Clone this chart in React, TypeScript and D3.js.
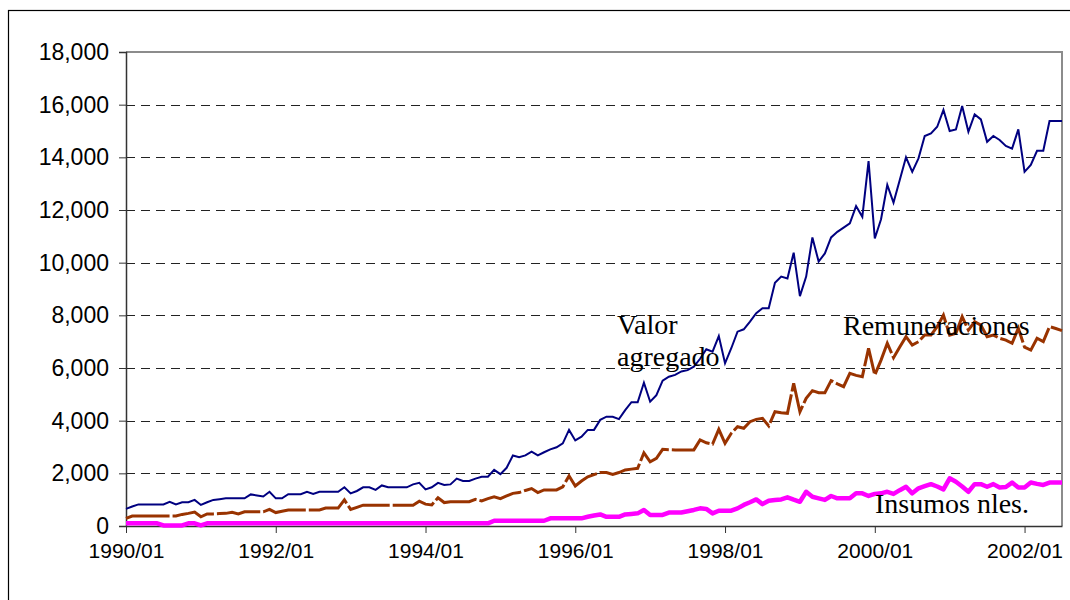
import React, { useEffect, useRef } from 'react';
import * as d3 from 'd3';

// monthly series, 1990/01 .. 2002/07
const valorAgregado = [
  650, 740, 820, 820, 820, 820, 820, 920, 820, 900,
  900, 990, 800, 900, 990, 1020, 1050, 1050, 1050, 1050,
  1200, 1160, 1120, 1300, 1050, 1050, 1210, 1210, 1210, 1300,
  1220, 1300, 1300, 1300, 1300, 1470, 1240, 1330, 1470, 1470,
  1370, 1540, 1470, 1470, 1470, 1470, 1580, 1640, 1390, 1470,
  1640, 1560, 1580, 1800, 1710, 1710, 1800, 1870, 1870, 2130,
  1970, 2210, 2680, 2610, 2680, 2820, 2680, 2800, 2910, 2990,
  3140, 3650, 3250, 3390, 3650, 3650, 4030, 4150, 4150, 4060,
  4400, 4700, 4700, 5440, 4720, 4970, 5520, 5670, 5740, 5870,
  5920, 6050, 6350, 6710, 6620, 7210, 6180, 6750, 7380, 7470,
  7760, 8080, 8270, 8270, 9240, 9470, 9400, 10380, 8730, 9470,
  10960, 10040, 10350, 10960, 11170, 11330, 11490, 12150, 11740, 13860,
  10920, 11650, 12950, 12280, 13140, 14000, 13450, 13960, 14810, 14910,
  15160, 15800, 15000, 15060, 15950, 14970, 15630, 15440, 14590, 14810,
  14660, 14430, 14330, 15060, 13450, 13710, 14250, 14250, 15380, 15380,
  15380,
];

const remuneraciones = [
  290, 380, 380, 380, 380, 380, 380, 380, 380, 440,
  480, 530, 350, 460, 460, 470, 480, 520, 460, 540,
  540, 540, 540, 630, 510, 560, 610, 610, 610, 610,
  610, 610, 680, 680, 680, 990, 630, 710, 790, 790,
  790, 790, 790, 790, 790, 790, 790, 940, 830, 800,
  1070, 890, 920, 920, 920, 920, 1010, 950, 1040, 1110,
  1040, 1140, 1240, 1270, 1350, 1420, 1270, 1370, 1370, 1370,
  1490, 1900, 1520, 1710, 1870, 1950, 2030, 2030, 1960, 2030,
  2130, 2160, 2190, 2780, 2440, 2570, 2910, 2900, 2890, 2890,
  2890, 2890, 3270, 3160, 3110, 3670, 3140, 3520, 3770, 3710,
  3960, 4050, 4090, 3800, 4340, 4300, 4280, 5420, 4340, 4850,
  5140, 5060, 5060, 5520, 5400, 5290, 5800, 5720, 5670, 6750,
  5730, 6300, 6940, 6390, 6800, 7190, 6870, 7000, 7250, 7250,
  7570, 8010, 7250, 7320, 7950, 7440, 7760, 7630, 7190, 7250,
  7130, 7060, 6940, 7510, 6790, 6680, 7130, 7000, 7570, 7500,
  7420,
];

const insumos = [
  100, 100, 100, 100, 100, 100, 20, 20, 20, 20,
  100, 100, 20, 100, 100, 100, 100, 100, 100, 100,
  100, 100, 100, 100, 100, 100, 100, 100, 100, 100,
  100, 100, 100, 100, 100, 100, 100, 100, 100, 100,
  100, 100, 100, 100, 100, 100, 100, 100, 100, 100,
  100, 100, 100, 100, 100, 100, 100, 100, 100, 200,
  200, 200, 200, 200, 200, 200, 200, 200, 290, 290,
  290, 290, 290, 290, 350, 400, 440, 350, 350, 350,
  440, 460, 480, 610, 420, 420, 420, 510, 510, 510,
  560, 610, 670, 650, 480, 580, 580, 580, 670, 800,
  900, 1010, 830, 960, 990, 1010, 1090, 1000, 920, 1300,
  1110, 1050, 990, 1140, 1050, 1050, 1050, 1240, 1240, 1140,
  1220, 1240, 1300, 1220, 1360, 1490, 1240, 1430, 1510, 1590,
  1500, 1390, 1810, 1680, 1500, 1300, 1590, 1590, 1490, 1590,
  1460, 1480, 1650, 1460, 1460, 1650, 1600, 1560, 1650, 1650,
  1650,
];

const yTicks = [0, 2000, 4000, 6000, 8000, 10000, 12000, 14000, 16000, 18000];
const xTickLabels = ['1990/01', '1992/01', '1994/01', '1996/01', '1998/01', '2000/01', '2002/01'];

const months = d3.timeMonth
  .range(new Date(1990, 0, 1), new Date(1990 + 12, 7, 1))
  .map(d3.timeFormat('%Y/%m'));

export default function App() {
  const ref = useRef<SVGSVGElement>(null);

  useEffect(() => {
    const svg = d3.select(ref.current);
    svg.selectAll('*').remove();

    const left = 126, right = 1062, top = 52, bottom = 526;

    const x = d3.scalePoint<string>().domain(months).range([left, right]);
    const y = d3.scaleLinear().domain([0, 18000]).range([bottom, top]);

    // outer chart border
    svg.append('rect')
      .attr('x', 8.5).attr('y', 10.5)
      .attr('width', 1080).attr('height', 620)
      .attr('fill', 'none').attr('stroke', '#000').attr('stroke-width', 1.2);

    // gridlines
    svg.append('g')
      .selectAll('line')
      .data(yTicks.filter(d => d > 0 && d < 18000))
      .join('line')
      .attr('x1', left).attr('x2', right)
      .attr('y1', d => Math.round(y(d)) + 0.5).attr('y2', d => Math.round(y(d)) + 0.5)
      .attr('stroke', '#222').attr('stroke-dasharray', '9,6');

    // plot area border (top/right)
    svg.append('path')
      .attr('d', `M${left},${top}H${right}V${bottom}`)
      .attr('fill', 'none').attr('stroke', '#8c8c8c').attr('stroke-width', 2);

    // y axis
    const yAxis = svg.append('g')
      .attr('transform', `translate(${left},0)`)
      .call(d3.axisLeft(y).tickValues(yTicks).tickSize(7).tickPadding(10)
        .tickFormat(d => d3.format(',')(d as number)));
    yAxis.select('.domain').attr('stroke', '#333').attr('stroke-width', 1.5);
    yAxis.selectAll('.tick line').attr('stroke', '#333');
    yAxis.selectAll('text')
      .attr('font-family', 'Liberation Sans, Arial, sans-serif')
      .attr('font-size', 23).attr('fill', '#000');

    // x axis
    const xAxis = svg.append('g')
      .attr('transform', `translate(0,${bottom})`)
      .call(d3.axisBottom(x).tickValues(xTickLabels).tickSize(7).tickSizeOuter(0).tickPadding(10));
    xAxis.select('.domain').attr('stroke', '#333').attr('stroke-width', 1.5);
    xAxis.selectAll('.tick line').attr('stroke', '#333');
    xAxis.selectAll('text')
      .attr('font-family', 'Liberation Sans, Arial, sans-serif')
      .attr('font-size', 21).attr('fill', '#000');

    const line = d3.line<number>()
      .x((d, i) => x(months[i]) as number)
      .y(d => y(d));

    svg.append('path')
      .datum(insumos)
      .attr('d', line)
      .attr('fill', 'none').attr('stroke', '#ff00ff').attr('stroke-width', 4.5)
      .attr('stroke-linejoin', 'round');

    svg.append('path')
      .datum(remuneraciones)
      .attr('d', line)
      .attr('fill', 'none').attr('stroke', '#993300').attr('stroke-width', 3)
      .attr('stroke-dasharray', '44,3');

    svg.append('path')
      .datum(valorAgregado)
      .attr('d', line)
      .attr('fill', 'none').attr('stroke', '#000080').attr('stroke-width', 2);

    const labels = svg.append('g')
      .attr('font-family', 'Liberation Serif, Times New Roman, serif')
      .attr('font-size', 28).attr('fill', '#000');
    labels.append('text').attr('x', 617).attr('y', 334).text('Valor');
    labels.append('text').attr('x', 617).attr('y', 366).text('agregado');
    labels.append('text').attr('x', 843).attr('y', 335).text('Remuneraciones');
    labels.append('text').attr('x', 875).attr('y', 513).text('Insumos nles.');
  }, []);

  return (
    <svg ref={ref} width={1070} height={600}
      style={{ position: 'absolute', left: 0, top: 0, background: '#fff' }} />
  );
}
